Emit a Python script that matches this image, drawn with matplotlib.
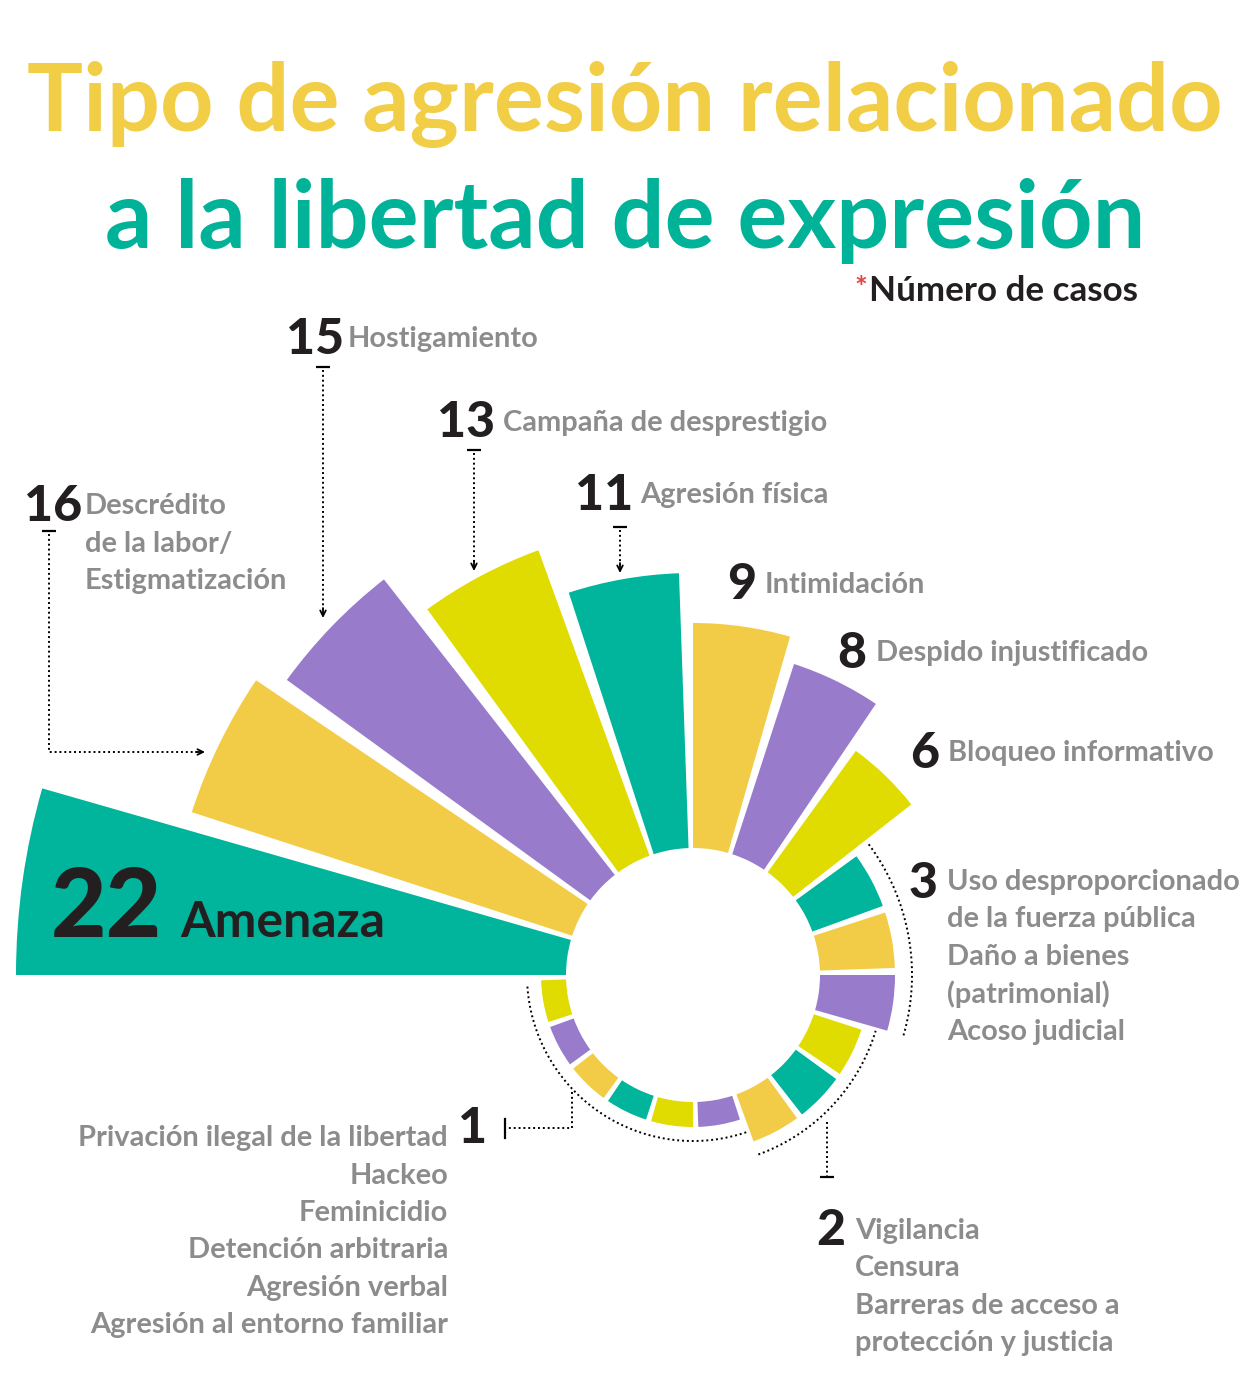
import numpy as np
import matplotlib
matplotlib.use("Agg")
import matplotlib.pyplot as plt

# datos: número de casos por tipo de agresión (en el orden del círculo)
values = [22, 16, 15, 13, 11, 9, 8, 6, 3, 3, 3, 2, 2, 2, 1, 1, 1, 1, 1, 1]
categories = [
    "Amenaza",
    "Descrédito\nde la labor/\nEstigmatización",
    "Hostigamiento",
    "Campaña de desprestigio",
    "Agresión física",
    "Intimidación",
    "Despido injustificado",
    "Bloqueo informativo",
]
group_3 = ["Uso desproporcionado", "de la fuerza pública", "Daño a bienes", "(patrimonial)", "Acoso judicial"]
group_2 = ["Vigilancia", "Censura", "Barreras de acceso a", "protección y justicia"]
group_1 = [
    "Privación ilegal de la libertad",
    "Hackeo",
    "Feminicidio",
    "Detención arbitraria",
    "Agresión verbal",
    "Agresión al entorno familiar",
]
palette = ["#00B59B", "#F2CC46", "#987CCB", "#E0DB00"]

title_1 = "Tipo de agresión relacionado"
title_2 = "a la libertad de expresión"
note = "Número de casos"

# colores y fuentes de texto
GRIS = "#8c8c8c"
NEGRO = "#231f20"
plt.rcParams["font.family"] = ["Lato", "DejaVu Sans"]

W, H = 1251, 1397
CX, CY = 693, 975          # centro del círculo (px)
PX = 25.0                  # px por caso
R0 = 127 / PX              # radio interior
RMAX = 28.0

fig = plt.figure(figsize=(W / 100, H / 100), dpi=100)

# eje polar para las barras
side = 2 * RMAX * PX
pax = fig.add_axes(
    [(CX - side / 2) / W, (H - CY - side / 2) / H, side / W, side / H],
    projection="polar",
)
pax.set_ylim(0, RMAX)
pax.set_axis_off()

step = 18.0
gap = 2.0
ends = np.deg2rad(180 - step * np.arange(len(values)))
starts = ends - np.deg2rad(step - gap)
colors = [palette[i % 4] for i in range(len(values))]
pax.bar(starts, values, width=np.deg2rad(step - gap), bottom=R0,
        align="edge", color=colors, linewidth=0)

# arcos punteados de los grupos pequeños
dot = dict(color="black", lw=1.4, linestyle=(0, (1, 1.5)))
t3 = np.deg2rad(np.linspace(-16, 37, 80))
pax.plot(t3, np.full_like(t3, 219 / PX), **dot)
t2 = np.deg2rad(np.linspace(-70, -17, 80))
pax.plot(t2, np.full_like(t2, 191 / PX), **dot)
t1 = np.deg2rad(np.linspace(184, 289, 120))
pax.plot(t1, np.full_like(t1, 166 / PX), **dot)

# capa de texto en píxeles
ax = fig.add_axes([0, 0, 1, 1])
ax.set_xlim(0, W)
ax.set_ylim(H, 0)
ax.set_axis_off()
ax.patch.set_alpha(0)

def px(v):
    return v * 0.72

# título
ax.text(625, 131, title_1, ha="center", va="baseline", fontsize=px(93.5),
        fontweight="bold", color="#F2CD46")
ax.text(625, 248, title_2, ha="center", va="baseline", fontsize=px(93.5),
        fontweight="bold", color="#00B398")
ax.text(1138, 301, note, ha="right", va="baseline", fontsize=px(35),
        fontweight="bold", color=NEGRO)
ax.text(854, 298, "*", ha="left", va="baseline", fontsize=px(30),
        fontweight="bold", color="#e8413c")

def number(x_right, y, v, size=50):
    # número alineado a la derecha, justo antes de la etiqueta
    ax.text(x_right, y, str(v), ha="right", va="baseline", fontsize=px(size),
            fontweight="black", color=NEGRO)

def label(x, y, lines, ha="left", step_y=37.5):
    for k, line in enumerate(lines):
        ax.text(x, y + k * step_y, line, ha=ha, va="baseline",
                fontsize=px(29), fontweight="bold", color=GRIS)

# 22 Amenaza
ax.text(162, 937, str(values[0]), ha="right", va="baseline", fontsize=px(96),
        fontweight="black", color=NEGRO)
ax.text(180, 937, categories[0], ha="left", va="baseline", fontsize=px(50),
        fontweight="bold", color=NEGRO)

# etiquetas de barras grandes
number(82, 521, values[1]); label(85, 514, categories[1].split("\n"))
number(344, 354, values[2]); label(348, 347, [categories[2]])
number(495, 437, values[3]); label(503, 431, [categories[3]])
number(633, 510, values[4]); label(640, 503, [categories[4]])
number(756, 599, values[5]); label(765, 593, [categories[5]])
number(866, 668, values[6]); label(876, 661, [categories[6]])
number(939, 768, values[7]); label(948, 761, [categories[7]])

# grupos
number(937, 898, values[8]); label(947, 890, group_3)
number(845, 1245, values[11]); label(855, 1239, group_2)
number(487, 1143, values[14]); label(448, 1146, group_1, ha="right")

# guías punteadas
def tick_h(x, y, half=7):
    ax.plot([x - half, x + half], [y, y], color="black", lw=1.6, solid_capstyle="butt")

def arrow(x0, y0, x1, y1):
    ax.annotate("", xy=(x1, y1), xytext=(x0, y0),
                arrowprops=dict(arrowstyle="->", lw=1.3, color="black",
                                shrinkA=0, shrinkB=0, mutation_scale=10))

# 16
tick_h(49, 531)
ax.plot([49, 49, 198], [534, 752, 752], **dot)
arrow(196, 752, 205, 752)
# 15
tick_h(323, 367)
ax.plot([323, 323], [370, 610], **dot)
arrow(323, 608, 323, 618)
# 13
tick_h(474, 450)
ax.plot([474, 474], [453, 563], **dot)
arrow(474, 561, 474, 571)
# 11
tick_h(620, 527)
ax.plot([620, 620], [530, 565], **dot)
arrow(620, 563, 620, 573)
# 2
ax.plot([827, 827], [1122, 1177], **dot)
tick_h(827, 1177)
# 1
ax.plot([572, 572, 507], [1092, 1128, 1128], **dot)
ax.plot([505, 505], [1119, 1138], color="black", lw=1.6)

fig.savefig("out.png", dpi=100, facecolor="white")
